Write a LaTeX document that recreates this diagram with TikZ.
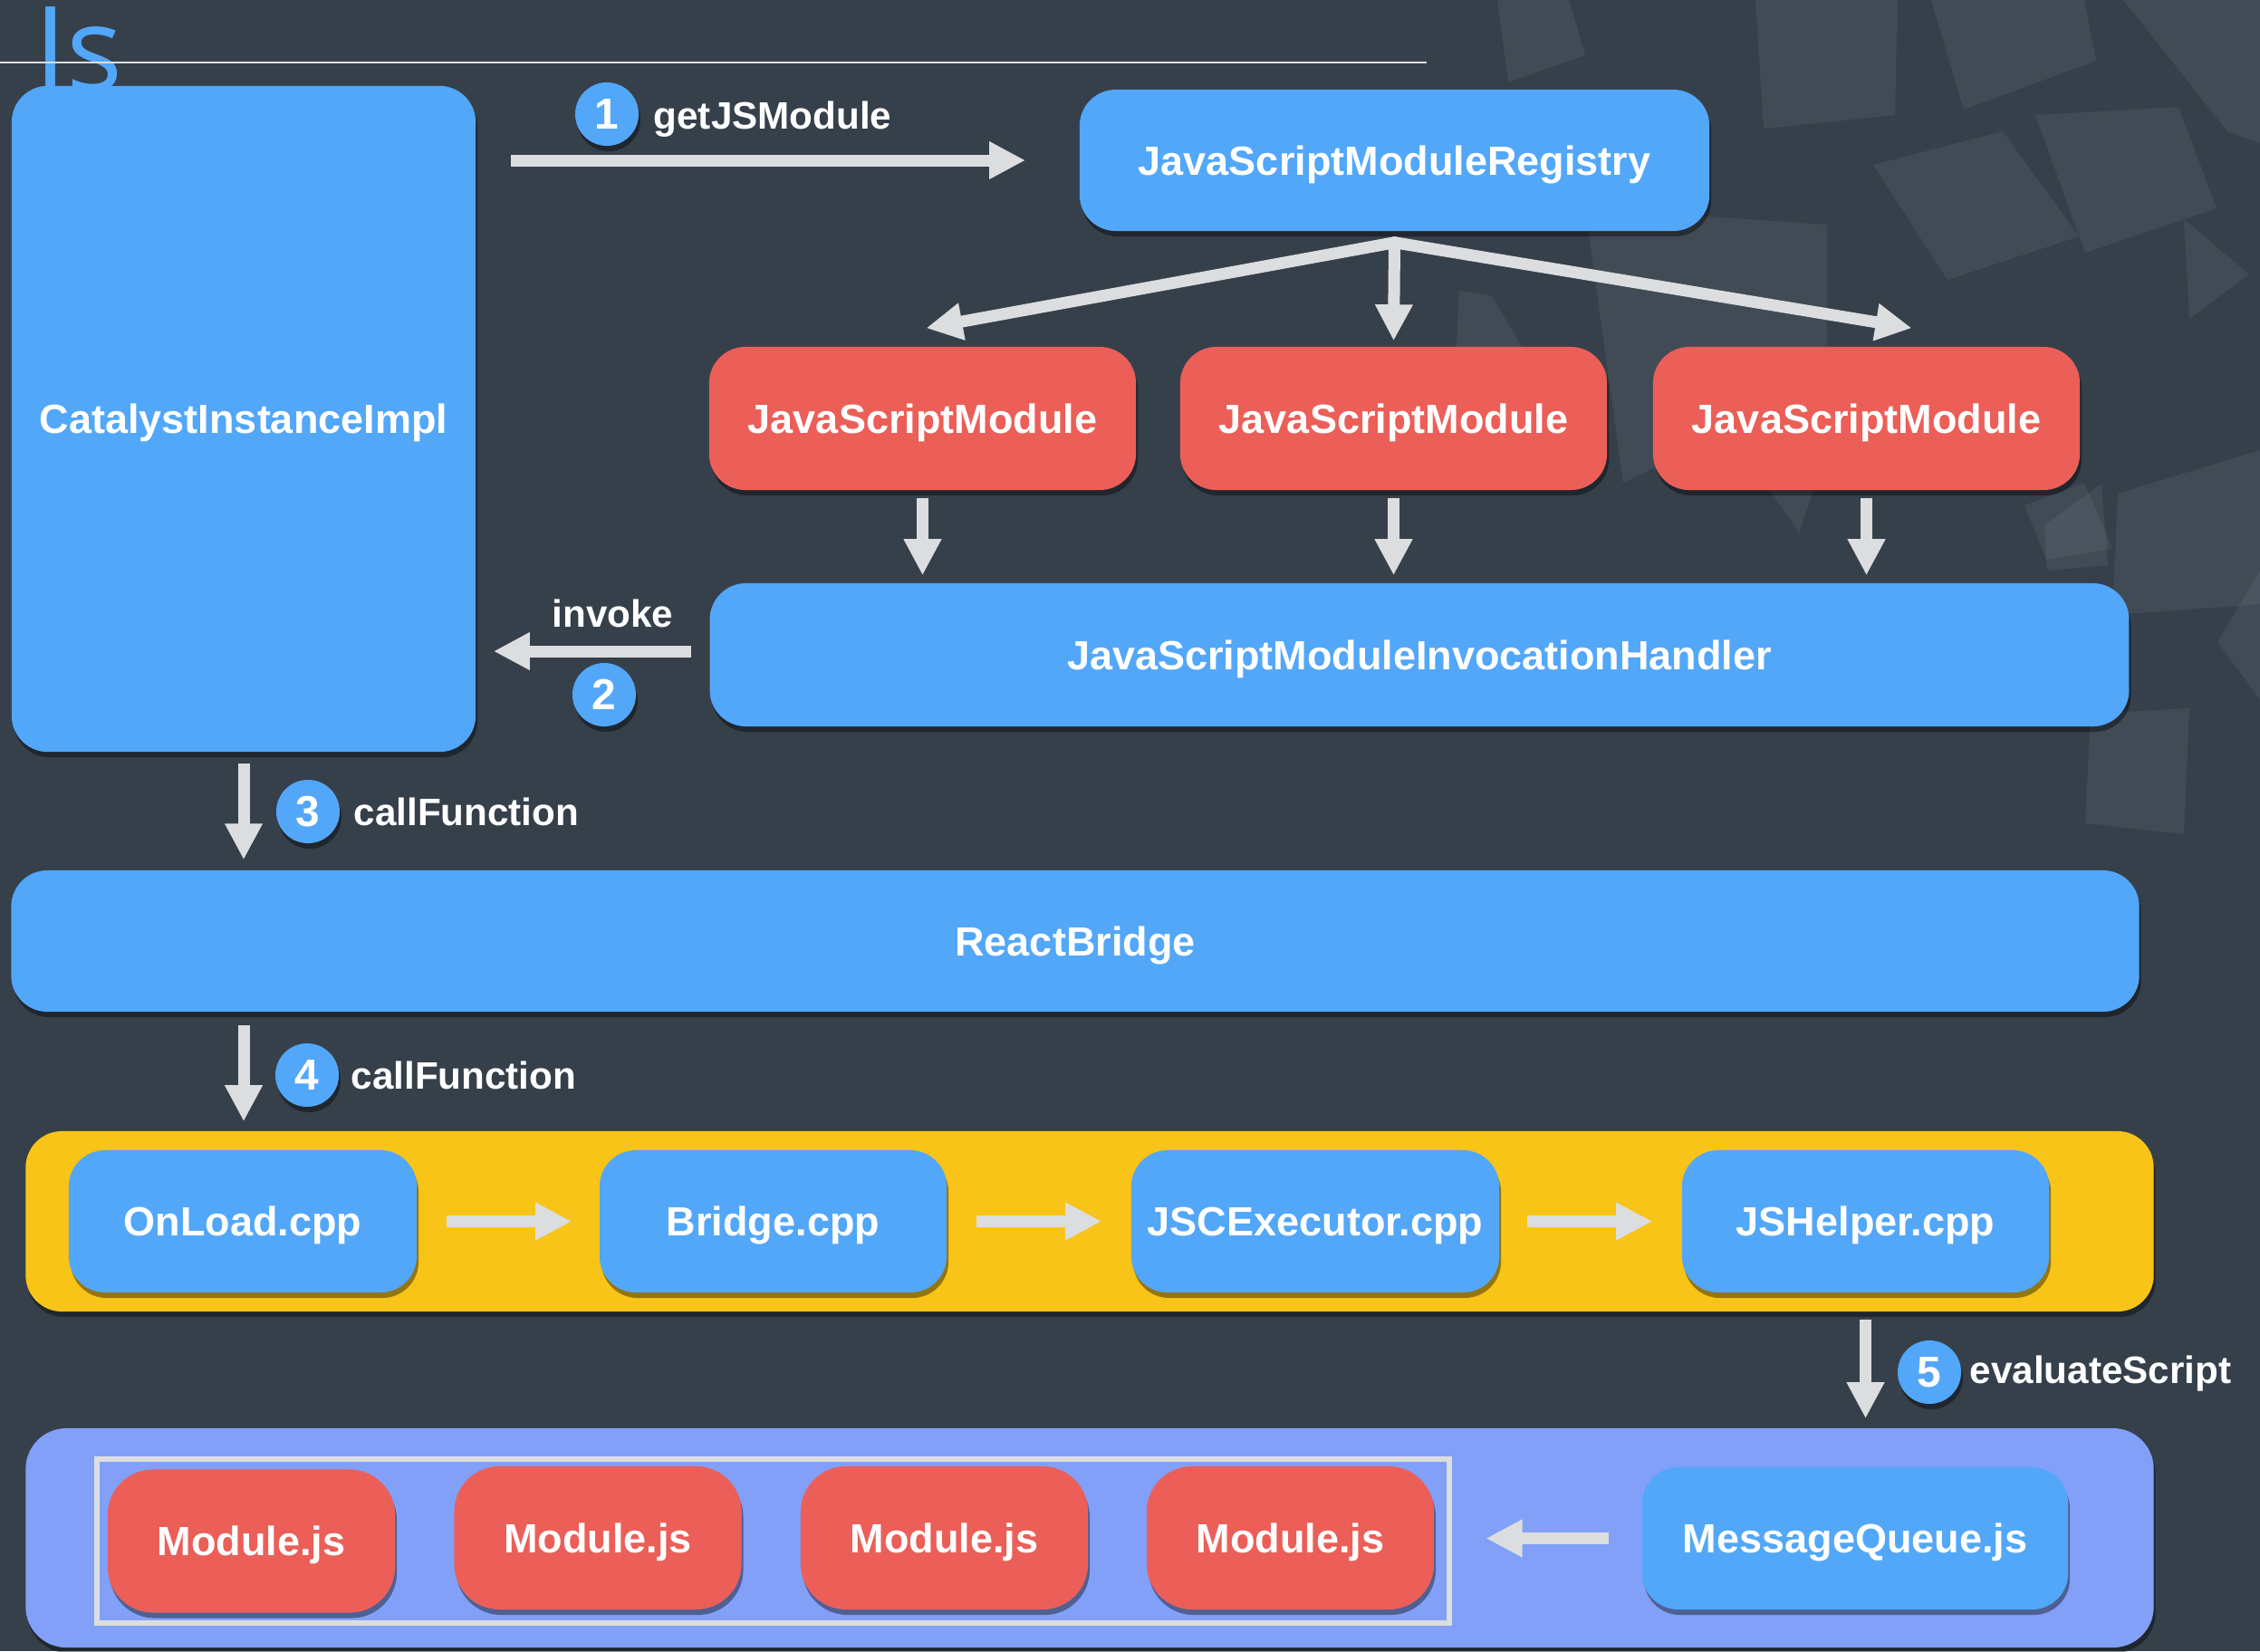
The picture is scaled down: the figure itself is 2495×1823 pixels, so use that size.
\documentclass[tikz,border=0pt]{standalone}
\usepackage{fontspec}
\setmainfont{Liberation Sans}
\newfontfamily\jsfont{Open Sans}
\usetikzlibrary{arrows.meta,shadows,calc}
\definecolor{bgc}{HTML}{36404B}
\definecolor{nblue}{HTML}{52A7F9}
\definecolor{nred}{HTML}{EB5F58}
\definecolor{nyellow}{HTML}{F8C418}
\definecolor{nlav}{HTML}{82A0F8}
\definecolor{agray}{HTML}{DCDDDF}
\begin{document}
\begin{tikzpicture}[x=0.01cm,y=-0.01cm,
  shad/.style={drop shadow={shadow xshift=0.02cm,shadow yshift=-0.06cm,opacity=0.4,fill=black}},
  box/.style={rectangle, rounded corners=0.4cm, text=white, inner sep=0pt, text depth=0pt,
    font=\fontsize{12.8pt}{15pt}\selectfont\bfseries, shad},
  bluebox/.style={box, fill=nblue},
  redbox/.style={box, fill=nred},
  modbox/.style={box, fill=nred, rounded corners=0.5cm, minimum width=3.17cm, minimum height=1.58cm},
  cppbox/.style={box, fill=nblue, minimum height=1.57cm},
  arr/.style={draw=agray, line width=0.13cm, -{Triangle[length=0.4cm,width=0.39cm]}},
  num/.style={circle, fill=nblue, minimum size=0.7cm, inner sep=0pt, text=white,
    font=\fontsize{13.6pt}{15pt}\selectfont\bfseries, shad},
  lbl/.style={text=white, font=\fontsize{12pt}{14pt}\selectfont\bfseries, inner sep=0pt, anchor=base west},
  deco/.style={fill=white, fill opacity=0.06}
]
\useasboundingbox (0,0) rectangle (2495,1823);
\fill[bgc] (0,0) rectangle (2495,1823);

% background decoration
\fill[deco] (1938,0) -- (2095,0) -- (2092,127) -- (1947,142) -- cycle;
\fill[deco] (2132,0) -- (2301,0) -- (2314,67) -- (2168,121) -- cycle;
\fill[deco] (2344,0) -- (2495,0) -- (2495,158) -- (2459,145) -- cycle;
\fill[deco] (2068,182) -- (2211,145) -- (2295,261) -- (2150,309) -- cycle;
\fill[deco] (2247,127) -- (2405,118) -- (2447,230) -- (2302,279) -- cycle;
\fill[deco] (1750,230) -- (2017,248) -- (2017,424) -- (1792,533) -- cycle;
\fill[deco] (2411,242) -- (2483,303) -- (2417,352) -- cycle;
\fill[deco] (2338,545) -- (2495,497) -- (2495,667) -- (2332,679) -- cycle;
\fill[deco] (2308,788) -- (2417,782) -- (2411,921) -- (2302,909) -- cycle;
\fill[deco] (1611,321) -- (1647,327) -- (1683,388) -- (1605,436) -- cycle;
\fill[deco] (1653,0) -- (1732,0) -- (1750,61) -- (1665,91) -- cycle;
\fill[deco] (2448,709) -- (2495,630) -- (2495,772) -- cycle;
\fill[deco] (1944,527) -- (2011,515) -- (1986,588) -- cycle;
\fill[deco] (2235,558) -- (2301,533) -- (2332,606) -- (2259,618) -- cycle;
\fill[deco] (2257,580) -- (2320,534) -- (2327,624) -- (2260,630) -- cycle;

% title
\node[anchor=base west, inner sep=0pt, text=nblue, font=\jsfont\fontsize{37pt}{40pt}\selectfont] (js) at (38,100) {Js};
\draw[draw=agray, line width=0.02cm] (0,69) -- (1575,69);

% top part
\node[bluebox, minimum width=5.12cm, minimum height=7.35cm] (cat) at (269,462.5) {CatalystInstanceImpl};
\node[bluebox, minimum width=6.95cm, minimum height=1.56cm] (reg) at (1539.5,177) {JavaScriptModuleRegistry};
\node[redbox, minimum width=4.71cm, minimum height=1.58cm] (jm1) at (1018.5,462) {JavaScriptModule};
\node[redbox, minimum width=4.71cm, minimum height=1.58cm] (jm2) at (1538.5,462) {JavaScriptModule};
\node[redbox, minimum width=4.71cm, minimum height=1.58cm] (jm3) at (2060.5,462) {JavaScriptModule};
\node[bluebox, minimum width=15.66cm, minimum height=1.58cm] (handler) at (1567,723) {JavaScriptModuleInvocationHandler};
\node[bluebox, minimum width=23.48cm, minimum height=1.56cm] (bridge) at (1187,1039) {ReactBridge};

% yellow container
\node[rectangle, rounded corners=0.4cm, fill=nyellow, shad, minimum width=23.48cm, minimum height=1.99cm] (native) at (1203,1348.5) {};
\node[cppbox, minimum width=3.84cm] (onload) at (268,1348.5) {OnLoad.cpp};
\node[cppbox, minimum width=3.83cm] (bcpp) at (853.5,1348.5) {Bridge.cpp};
\node[cppbox, minimum width=4.06cm] (jsc) at (1452,1348.5) {JSCExecutor.cpp};
\node[cppbox, minimum width=4.05cm] (jsh) at (2059.5,1348.5) {JSHelper.cpp};

% lavender container
\node[rectangle, rounded corners=0.45cm, fill=nlav, shad, minimum width=23.48cm, minimum height=2.42cm] (jsside) at (1203,1698) {};
\node[draw=agray, line width=0.06cm, minimum width=14.93cm, minimum height=1.81cm, inner sep=0pt] (group) at (853.5,1701.5) {};
\node[modbox] (m1) at (277.5,1701.5) {Module.js};
\node[modbox] (m2) at (660,1698) {Module.js};
\node[modbox] (m3) at (1042.5,1698) {Module.js};
\node[modbox] (m4) at (1424.5,1698) {Module.js};
\node[bluebox, minimum width=4.70cm, minimum height=1.57cm] (mq) at (2048,1698.5) {MessageQueue.js};

% connectors
\draw[arr, shorten <=0.38cm, shorten >=0.59cm] (cat.east |- reg.west) -- (reg.west);
\coordinate (fork) at ($(reg.south)+(0,12)$);
\draw[arr, line cap=round] (fork) -- ($(jm1.north)+(4,-20)$);
\draw[arr, line cap=round] (fork) -- ($(jm2.north)+(0,-6)$);
\draw[arr, line cap=round] (fork) -- ($(jm3.north)+(50,-20)$);
\draw[arr, shorten <=0.08cm, shorten >=0.08cm] (jm1.south) -- (jm1.south |- handler.north);
\draw[arr, shorten <=0.08cm, shorten >=0.08cm] (jm2.south) -- (jm2.south |- handler.north);
\draw[arr, shorten <=0.08cm, shorten >=0.08cm] (jm3.south) -- (jm3.south |- handler.north);
\draw[arr, shorten <=0.20cm, shorten >=0.19cm] ($(handler.west)+(0,-4)$) -- ($(handler.west -| cat.east)+(0,-4)$);
\draw[arr, shorten <=0.12cm, shorten >=0.11cm] (cat.south) -- (cat.south |- bridge.north);
\draw[arr, shorten <=0.14cm, shorten >=0.10cm] (bridge.south -| cat.south) -- (cat.south |- native.north);
\draw[arr, shorten <=0.32cm, shorten >=0.30cm] (onload.east) -- (bcpp.west);
\draw[arr, shorten <=0.32cm, shorten >=0.32cm] (bcpp.east) -- (jsc.west);
\draw[arr, shorten <=0.30cm, shorten >=0.32cm] (jsc.east) -- (jsh.west);
\draw[arr, shorten <=0.08cm, shorten >=0.10cm] (jsh.south |- native.south) -- (jsh.south |- jsside.north);
\draw[arr, shorten <=0.36cm, shorten >=0.37cm] (mq.west) -- (mq.west -| group.east);

% labels
\node[num] (n1) at (670,126) {1};
\node[lbl] (l1) at (721,142) {getJSModule};
\node[lbl] (l2) at (609,692) {invoke};
\node[num] (n2) at (667,767) {2};
\node[num] (n3) at (340,896) {3};
\node[lbl] (l3) at (390,911) {callFunction};
\node[num] (n4) at (339,1187) {4};
\node[lbl] (l4) at (387,1202) {callFunction};
\node[num] (n5) at (2130,1515) {5};
\node[lbl] (l5) at (2174,1527) {evaluateScript};
\end{tikzpicture}
\end{document}
